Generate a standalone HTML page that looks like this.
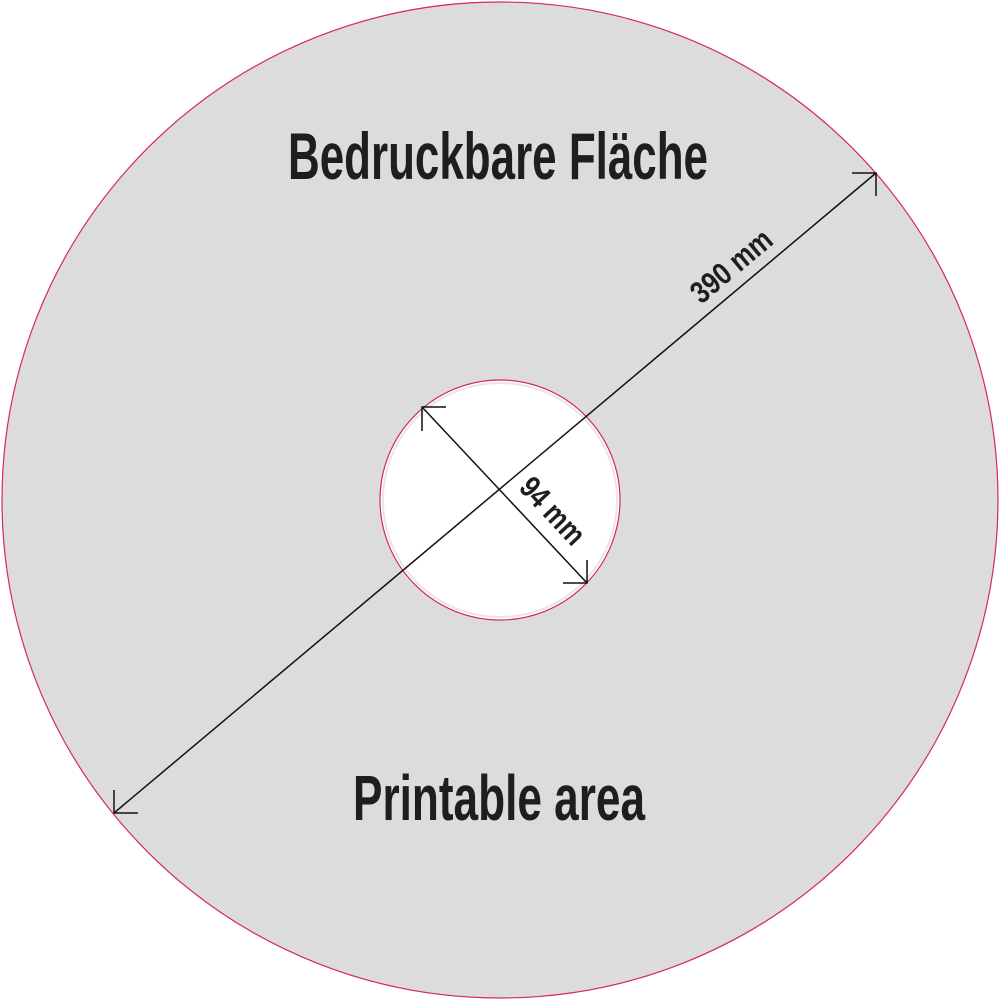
<!DOCTYPE html>
<html><head><meta charset="utf-8"><style>
html,body{margin:0;padding:0;background:#fff;}
svg{display:block;}
text{font-family:"Liberation Sans Narrow","Liberation Sans",sans-serif;font-weight:bold;fill:#1e1e1e;}
</style></head><body>
<svg width="1000" height="1000" viewBox="0 0 1000 1000" xmlns="http://www.w3.org/2000/svg">
<circle cx="500" cy="500" r="498" fill="#dcdcdc" stroke="#d6246e" stroke-width="1.2"/>
<circle cx="500" cy="500" r="120" fill="#fff" stroke="#d6246e" stroke-width="1.2"/>
<circle cx="500" cy="500" r="117" fill="none" stroke="#e6e6e6" stroke-width="2"/>
<g stroke="#111" stroke-width="1.5" fill="none">
<line x1="114" y1="813" x2="876" y2="173"/>
<polyline points="852,173 876,173 876,196"/>
<polyline points="114,790 114,813 138,813"/>
<line x1="422" y1="407" x2="587" y2="583"/>
<polyline points="422,431 422,407 446,407"/>
<polyline points="587,560 587,583 563,583"/>
</g>
<text x="498" y="179" font-size="66" text-anchor="middle" textLength="420" lengthAdjust="spacingAndGlyphs">Bedruckbare Fläche</text>
<text x="499" y="820" font-size="64" text-anchor="middle" textLength="292" lengthAdjust="spacingAndGlyphs">Printable area</text>
<text transform="translate(738,274) rotate(-40)" font-size="31" text-anchor="middle" textLength="96" lengthAdjust="spacingAndGlyphs">390 mm</text>
<text transform="translate(545,518) rotate(47)" font-size="31" text-anchor="middle" textLength="80" lengthAdjust="spacingAndGlyphs">94 mm</text>
</svg>
</body></html>
